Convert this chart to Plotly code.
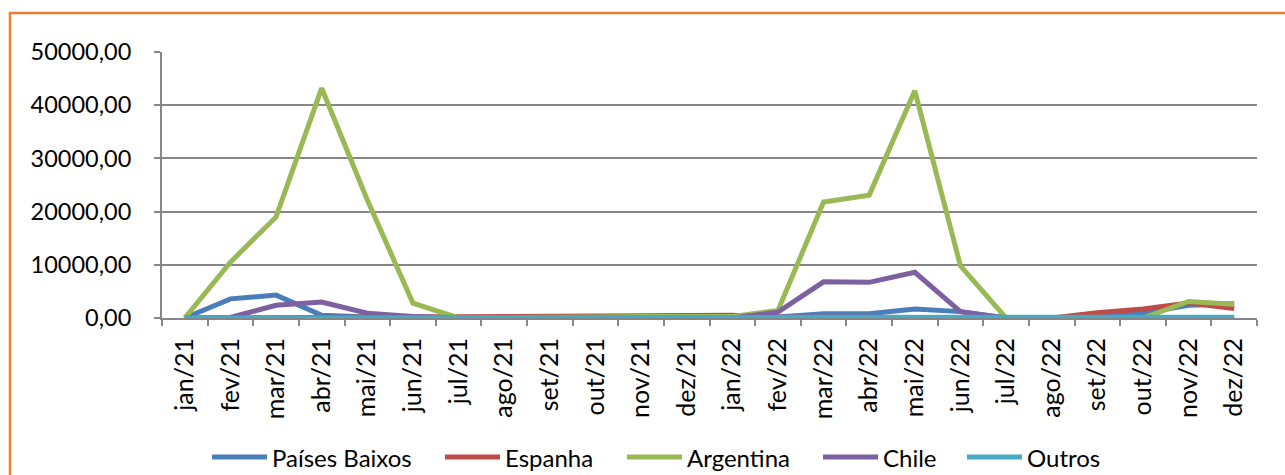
import plotly.graph_objects as go

months = ["jan/21", "fev/21", "mar/21", "abr/21", "mai/21", "jun/21", "jul/21", "ago/21",
          "set/21", "out/21", "nov/21", "dez/21", "jan/22", "fev/22", "mar/22", "abr/22",
          "mai/22", "jun/22", "jul/22", "ago/22", "set/22", "out/22", "nov/22", "dez/22"]

paises_baixos = [0, 3600, 4300, 500, 200, 100, 50, 50, 50, 50, 50, 100,
                 100, 200, 800, 800, 1700, 1200, 0, 0, 300, 900, 2400, 2700]
espanha = [0, 50, 50, 100, 100, 100, 100, 150, 200, 300, 350, 500,
           500, 200, 100, 100, 100, 100, 0, 0, 1000, 1700, 2800, 1800]
argentina = [0, 10500, 19000, 43200, 22200, 2800, 0, 0, 100, 200, 300, 300,
             300, 1400, 21800, 23100, 42700, 9800, 0, 0, 0, 0, 3100, 2600]
chile = [0, 100, 2400, 3000, 900, 300, 0, 0, 0, 0, 0, 0,
         0, 1100, 6800, 6700, 8600, 1200, 0, 0, 0, 0, 0, 0]
outros = [0, 0, 0, 0, 0, 0, 0, 0, 0, 0, 0, 0,
          0, 0, 0, 0, 0, 0, 0, 0, 0, 50, 100, 150]

series_names = ["Países Baixos", "Espanha", "Argentina", "Chile", "Outros"]
series_values = [paises_baixos, espanha, argentina, chile, outros]
series_colors = ["#4A7EBB", "#BE4B48", "#98B954", "#7D60A0", "#46AAC5"]

# Geometry (pixels) of the plot area
L, R, T, B = 162, 1257, 52, 318
W, H = 1285, 475


def px(x):
    return (x - L) / (R - L)


def py(y):
    return (B - y) / (B - T)


fig = go.Figure()
for name, vals, col in zip(series_names, series_values, series_colors):
    fig.add_trace(go.Scatter(x=months, y=vals, name=name, mode="lines",
                             line=dict(color=col, width=5), showlegend=False))

font_family = "Lato, 'Open Sans', sans-serif"

fig.update_layout(
    width=W, height=H,
    margin=dict(l=L, r=W - R, t=T, b=H - B, autoexpand=False),
    paper_bgcolor="white", plot_bgcolor="white",
    separators=",.",
    font=dict(family=font_family, size=23, color="black"),
    showlegend=False,
    xaxis=dict(type="category", showgrid=False, showline=True, linecolor="#868686",
               linewidth=2, ticks="outside", ticklen=6, tickcolor="#868686", tickwidth=2,
               tickson="boundaries", tickangle=-90, ticklabelstandoff=8,
               tickfont=dict(size=25), range=[-0.5, 23.5], automargin=False),
    yaxis=dict(range=[0, 50000], dtick=10000, tickformat=".2f", showgrid=True,
               gridcolor="#868686", gridwidth=2, showline=True, linecolor="#868686",
               linewidth=2, ticks="outside", ticklen=6, tickcolor="#868686", tickwidth=2,
               zeroline=False, ticklabelstandoff=18, tickfont=dict(size=23.5),
               automargin=False),
)

# Legend drawn manually (line sample + text), matching the reference layout
legend_line_x = [212, 445, 627, 823, 967]
legend_line_len = 55
legend_y = 457
for name, col, lx in zip(series_names, series_colors, legend_line_x):
    fig.add_shape(type="line", xref="paper", yref="paper",
                  x0=px(lx), x1=px(lx + legend_line_len), y0=py(legend_y), y1=py(legend_y),
                  line=dict(color=col, width=5))
    fig.add_annotation(xref="paper", yref="paper", x=px(lx + legend_line_len + 3), y=py(legend_y),
                       text=name, showarrow=False, xanchor="left", yanchor="middle",
                       font=dict(size=24, family=font_family, color="black"))

# Orange chart-area border
fig.add_shape(type="rect", xref="paper", yref="paper",
              x0=px(10), x1=px(1300), y0=py(490), y1=py(13),
              line=dict(color="#ED7D31", width=2.5), fillcolor="rgba(0,0,0,0)", layer="below")

fig.write_html("out.html")
